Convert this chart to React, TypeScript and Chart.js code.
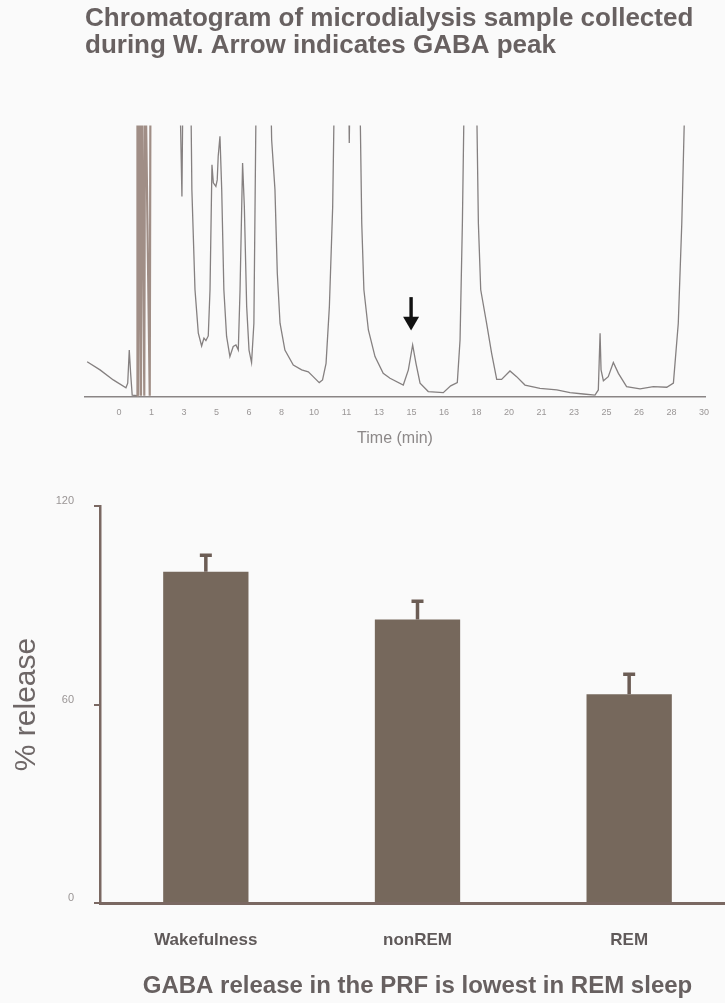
import React, { useEffect, useRef } from "react";
import { Chart, registerables } from "chart.js";

Chart.register(...registerables);

// ---------- Chromatogram data ----------
const TIME_MIN = [
  -1.63, -0.97, -0.29, 0.36, 0.45, 0.53, 0.6, 0.68, 0.93, 0.95, 0.99, 1.03, 1.13, 1.17, 1.3, 1.34, 1.58, 1.62,
  3.08, 3.23, 3.3, 3.66, 3.74, 3.9, 4.07, 4.24, 4.36, 4.46, 4.58, 4.67, 4.77, 4.84, 4.97, 5.04, 5.09, 5.18,
  5.27, 5.38, 5.52, 5.69, 5.86, 6.0, 6.12, 6.21, 6.34, 6.43, 6.55, 6.67, 6.8, 6.92, 7.06, 7.74, 7.83, 8.0,
  8.12, 8.26, 8.51, 8.94, 9.37, 9.71, 9.96, 10.27, 10.44, 10.62, 10.79, 10.96, 11.08, 11.76, 11.81, 11.88,
  12.32, 12.45, 12.56, 12.79, 13.13, 13.55, 13.9, 14.58, 14.84, 15.06, 15.23, 15.44, 15.86, 16.63, 17.01,
  17.35, 17.49, 17.61, 17.74, 18.3, 18.43, 18.55, 18.85, 19.11, 19.37, 19.62, 20.05, 20.39, 20.82, 21.59,
  22.45, 23.13, 23.81, 24.41, 24.58, 24.67, 24.72, 24.84, 25.09, 25.35, 25.61, 26.03, 26.72, 27.4, 28.09,
  28.43, 28.68, 28.86, 28.99,
];
const SIGNAL = [
  13.0, 10.0, 6.3, 3.4, 5.1, 17.3, 8.7, 0.7, 0.5, 130, 0.5, 130, 0.5, 130, 0.5, 130, 0.5, 130,
  130, 73.9, 130, 130, 76.4, 39.5, 23.5, 18.8, 21.7, 20.8, 22.5, 39.5, 85.6, 78.9, 77.6, 80, 88.7, 96.1,
  76.4, 39.5, 22.3, 14.9, 18.6, 19.2, 17.3, 39.5, 86.2, 70.2, 33.3, 17.3, 12.7, 27.2, 130, 130, 94.8, 76.4,
  45.6, 27.2, 17.3, 11.8, 10.0, 9.3, 7.5, 5.3, 6.3, 12.4, 33.3, 70.2, 130, 130, 93.6, 130,
  130, 64, 39.5, 24.7, 14.9, 8.7, 6.9, 4.4, 10.0, 19.2, 12.4, 5.1, 2.0, 1.6, 4.1,
  5.3, 21.0, 64, 130, 130, 64, 39.5, 27.2, 16.1, 6.5, 6.5, 9.6, 7.5, 4.4, 3.2,
  2.6, 1.6, 1.1, 0.7, 2.6, 23.5, 10.0, 6.0, 7.5, 12.7, 8.7, 3.8, 3.0, 3.8, 3.6,
  5.1, 27.2, 64, 102,
];
const TIME_TICKS = [0, 1.667, 3.333, 5, 6.667, 8.333, 10, 11.667, 13.333, 15, 16.667, 18.333, 20, 21.667, 23.333, 25, 26.667, 28.333, 30];
const TIME_TICK_LABELS = ["0", "1", "3", "5", "6", "8", "10", "11", "13", "15", "16", "18", "20", "21", "23", "25", "26", "28", "30"];
// GABA arrow (time, signal from -> head -> tip)
const ARROW_TIME = 14.98;
const ARROW_FROM = 36.8;
const ARROW_HEAD = 29.6;
const ARROW_TO = 24.5;

// ---------- Bar chart data ----------
const STATES = ["Wakefulness", "nonREM", "REM"];
const RELEASE = [100.1, 85.7, 63.1];
const RELEASE_SEM = [5.5, 6.0, 6.5];
const RELEASE_TICKS = [0, 60, 120];

const FONT = '"Liberation Sans", Arial, Helvetica, sans-serif';
Chart.defaults.font.family = FONT;

const arrowPlugin = {
  id: "gabaArrow",
  afterDatasetsDraw(chart: any) {
    const { ctx, scales } = chart;
    const x = scales.x.getPixelForValue(ARROW_TIME);
    const y0 = scales.y.getPixelForValue(ARROW_FROM);
    const yh = scales.y.getPixelForValue(ARROW_HEAD);
    const y1 = scales.y.getPixelForValue(ARROW_TO);
    ctx.save();
    ctx.fillStyle = "#111";
    ctx.fillRect(x - 1.7, y0, 3.4, yh - y0 + 1);
    ctx.beginPath();
    ctx.moveTo(x - 8, yh);
    ctx.lineTo(x + 8, yh);
    ctx.lineTo(x, y1);
    ctx.closePath();
    ctx.fill();
    ctx.restore();
  },
};

const errorBarPlugin = {
  id: "errorBars",
  afterDatasetsDraw(chart: any) {
    const { ctx, scales } = chart;
    const meta = chart.getDatasetMeta(0);
    ctx.save();
    ctx.strokeStyle = "#6c5d55";
    ctx.lineWidth = 3.5;
    meta.data.forEach((bar: any, i: number) => {
      const top = scales.y.getPixelForValue(RELEASE[i] + RELEASE_SEM[i]);
      ctx.beginPath();
      ctx.moveTo(bar.x, bar.y);
      ctx.lineTo(bar.x, top);
      ctx.moveTo(bar.x - 6, top + 1.5);
      ctx.lineTo(bar.x + 6, top + 1.5);
      ctx.stroke();
    });
    ctx.restore();
  },
};

function Chromatogram() {
  const ref = useRef<HTMLCanvasElement>(null);
  useEffect(() => {
    const chart = new Chart(ref.current as HTMLCanvasElement, {
      type: "line",
      data: {
        datasets: [
          {
            data: TIME_MIN.map((t, i) => ({ x: t, y: SIGNAL[i] })),
            borderColor: "#858080",
            borderWidth: 1.3,
            pointRadius: 0,
            tension: 0,
            fill: false,
            segment: {
              borderColor: (c: any) => (c.p0.parsed.x > 0.9 && c.p1.parsed.x < 1.7 ? "#a08e86" : undefined),
              borderWidth: (c: any) => (c.p0.parsed.x > 0.9 && c.p1.parsed.x < 1.7 ? 2.2 : undefined),
            },
          } as any,
        ],
      },
      options: {
        animation: false,
        responsive: false,
        maintainAspectRatio: false,
        layout: { padding: { left: 85, right: 20, top: 0, bottom: 0 } },
        plugins: {
          legend: { display: false },
          tooltip: { enabled: false },
          title: {
            display: true,
            text: ["Chromatogram of microdialysis sample collected", "during W. Arrow indicates GABA peak"],
            align: "start",
            color: "#686161",
            font: { size: 26, weight: "bold", lineHeight: 1.05 },
            padding: { top: 5, bottom: 66 },
          },
        },
        scales: {
          x: {
            type: "linear",
            min: -1.74,
            max: 30.05,
            afterBuildTicks: (s: any) => {
              s.ticks = TIME_TICKS.map((v) => ({ value: v }));
            },
            afterFit: (s: any) => {
              s.height = 63;
            },
            grid: { display: false, drawTicks: false },
            border: { display: true, color: "#8a8585", width: 1.5 },
            ticks: {
              autoSkip: false,
              maxRotation: 0,
              padding: 10,
              font: { size: 9 },
              color: "#9a9696",
              callback: (_v: any, i: number) => TIME_TICK_LABELS[i],
            },
            title: {
              display: true,
              text: "Time (min)",
              color: "#8c8888",
              font: { size: 16 },
              padding: { top: 0, bottom: 12 },
            },
          },
          y: { display: false, min: 0, max: 100 },
        },
      },
      plugins: [arrowPlugin],
    } as any);
    return () => chart.destroy();
  }, []);
  return (
    <canvas
      ref={ref}
      width={725}
      height={460}
      style={{ position: "absolute", left: 0, top: 0, width: 725, height: 460 }}
    />
  );
}

function ReleaseBars() {
  const ref = useRef<HTMLCanvasElement>(null);
  useEffect(() => {
    const chart = new Chart(ref.current as HTMLCanvasElement, {
      type: "bar",
      data: {
        labels: STATES,
        datasets: [
          {
            data: RELEASE,
            backgroundColor: "#76685c",
            borderWidth: 0,
            barPercentage: 0.403,
            categoryPercentage: 1,
          },
        ],
      },
      options: {
        animation: false,
        responsive: false,
        maintainAspectRatio: false,
        layout: { padding: { left: 0, right: 0, top: 46, bottom: 0 } },
        plugins: { legend: { display: false }, tooltip: { enabled: false } },
        scales: {
          x: {
            afterFit: (s: any) => {
              s.height = 100;
            },
            grid: { display: false, drawTicks: false },
            border: { display: true, color: "#7a6862", width: 3 },
            ticks: { padding: 27, font: { size: 17, weight: "bold" }, color: "#5f5959" },
            title: {
              display: true,
              text: "GABA release in the PRF is lowest in REM sleep",
              color: "#676060",
              font: { size: 24, weight: "bold" },
              padding: { top: 0, bottom: 2 },
            },
          },
          y: {
            min: 0,
            max: 120,
            afterBuildTicks: (s: any) => {
              s.ticks = RELEASE_TICKS.map((v) => ({ value: v }));
            },
            afterFit: (s: any) => {
              s.width = 100;
            },
            grid: { drawOnChartArea: false, drawTicks: true, tickLength: 6, color: "#7a6862", lineWidth: 2 },
            border: { display: true, color: "#7a6862", width: 2.5 },
            ticks: { padding: 20, font: { size: 11 }, color: "#9a9595", labelOffset: -5 },
            title: {
              display: true,
              text: "% release",
              color: "#6e6767",
              font: { size: 30 },
              padding: { top: 9, bottom: 0 },
            },
          },
        },
      },
      plugins: [errorBarPlugin],
    } as any);
    return () => chart.destroy();
  }, []);
  return (
    <canvas
      ref={ref}
      width={735}
      height={543}
      style={{ position: "absolute", left: 0, top: 460, width: 735, height: 543 }}
    />
  );
}

export default function App() {
  return (
    <div
      style={{
        position: "fixed",
        left: 0,
        top: 0,
        width: 725,
        height: 1003,
        overflow: "hidden",
        background: "#fafafa",
      }}
    >
      <Chromatogram />
      <ReleaseBars />
    </div>
  );
}
